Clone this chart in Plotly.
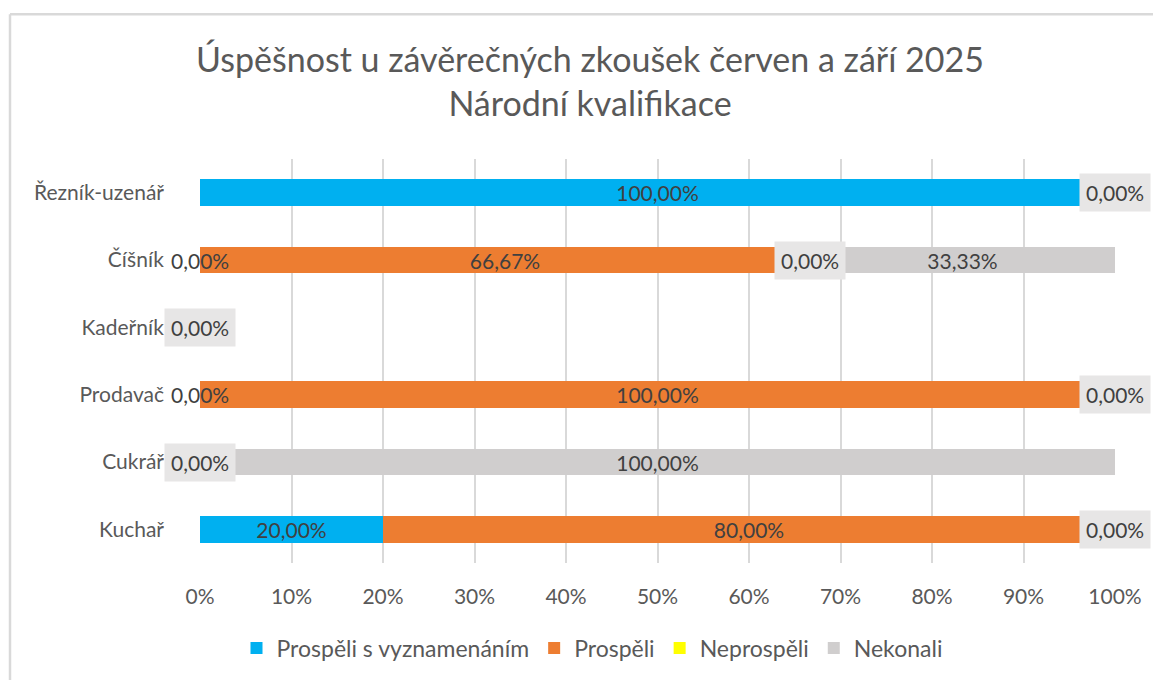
import plotly.graph_objects as go

# ---- data ----
categories = ["Řezník-uzenář", "Číšník", "Kadeřník", "Prodavač", "Cukrář", "Kuchař"]
series_names = ["Prospěli s vyznamenáním", "Prospěli", "Neprospěli", "Nekonali"]
s_vyznamenanim = [100.0, 0.0, 0.0, 0.0, 0.0, 20.0]
prospeli = [0.0, 66.67, 0.0, 100.0, 0.0, 80.0]
neprospeli = [0.0, 0.0, 0.0, 0.0, 0.0, 0.0]
nekonali = [0.0, 33.33, 0.0, 0.0, 100.0, 0.0]
tick_values = [0, 10, 20, 30, 40, 50, 60, 70, 80, 90, 100]
tick_labels = ["0%", "10%", "20%", "30%", "40%", "50%", "60%", "70%", "80%", "90%", "100%"]

series_values = [s_vyznamenanim, prospeli, neprospeli, nekonali]
colors = ["#00B0F0", "#ED7D31", "#FFFF00", "#D0CECE"]
boxed = [False, False, True, False]

FONT = "Lato"
# page has an 8px body margin, so the figure is sized to fill the rest of the window
W, H = 1153, 672
ML, MR, MT, MB = 192, 46, 151, 116
PW, PH = W - ML - MR, H - MT - MB
LBL = 21


def fmt(v):
    return f"{v:.2f}".replace(".", ",") + "%"


fig = go.Figure()
for name, vals, col in zip(series_names, series_values, colors):
    fig.add_trace(go.Bar(
        name=name, y=categories, x=vals, orientation="h",
        marker=dict(color=col, line=dict(width=0)),
        text=[fmt(v) if v > 0 else "" for v in vals],
        textposition="inside", insidetextanchor="middle",
        textfont=dict(family=FONT, size=LBL, color="#404040"),
        constraintext="none",
        hoverinfo="skip",
    ))

# labels for zero-size segments, placed at their stacked position
plain, boxes = [], []
for i, cat in enumerate(categories):
    cum = 0.0
    for s, vals in enumerate(series_values):
        v = vals[i]
        if v == 0:
            ann = dict(x=cum, y=cat, xref="x", yref="y", text=fmt(v), showarrow=False,
                       font=dict(family=FONT, size=LBL, color="#404040"),
                       xanchor="center", yanchor="middle")
            if boxed[s]:
                ann.update(bgcolor="#E7E6E6", borderpad=6)
                boxes.append(ann)
            else:
                plain.append(ann)
        cum += v
for a in plain + boxes:
    fig.add_annotation(**a)

# chart border (light gray frame, top and left visible)
bx = (2 - ML) / PW
by = 1 + (MT - 6) / PH
fig.add_shape(type="line", xref="paper", yref="paper", x0=bx, x1=(W + 20 - ML) / PW, y0=by, y1=by,
              line=dict(color="#D9D9D9", width=2.5))
fig.add_shape(type="line", xref="paper", yref="paper", x0=bx, x1=bx, y0=by, y1=-(MB + 20) / PH,
              line=dict(color="#D9D9D9", width=2.5))

fig.update_layout(
    width=W, height=H,
    margin=dict(l=ML, r=MR, t=MT, b=MB),
    barmode="stack", bargap=0.6,
    paper_bgcolor="white", plot_bgcolor="white",
    title=dict(text="Úspěšnost u závěrečných zkoušek červen a září 2025<br>Národní kvalifikace",
               x=582 / W, xanchor="center", y=1 - 64 / H, yanchor="middle",
               font=dict(family=FONT, size=34, color="#595959")),
    xaxis=dict(range=[0, 100], tickvals=tick_values, ticktext=tick_labels,
               showgrid=True, gridcolor="#D9D9D9", gridwidth=1.5, zeroline=False,
               showline=False, ticks="", ticklabelstandoff=19,
               tickfont=dict(family=FONT, size=LBL, color="#595959")),
    yaxis=dict(autorange="reversed", showgrid=False, zeroline=False, showline=False,
               ticks="", ticklabelstandoff=35,
               tickfont=dict(family=FONT, size=21, color="#595959")),
    legend=dict(orientation="h", x=(584 - ML) / PW, xanchor="center",
                y=(H - MB - 640) / PH, yanchor="middle", traceorder="normal",
                font=dict(family=FONT, size=23, color="#595959"), itemwidth=30),
    showlegend=True,
)

fig.write_html("out.html")
